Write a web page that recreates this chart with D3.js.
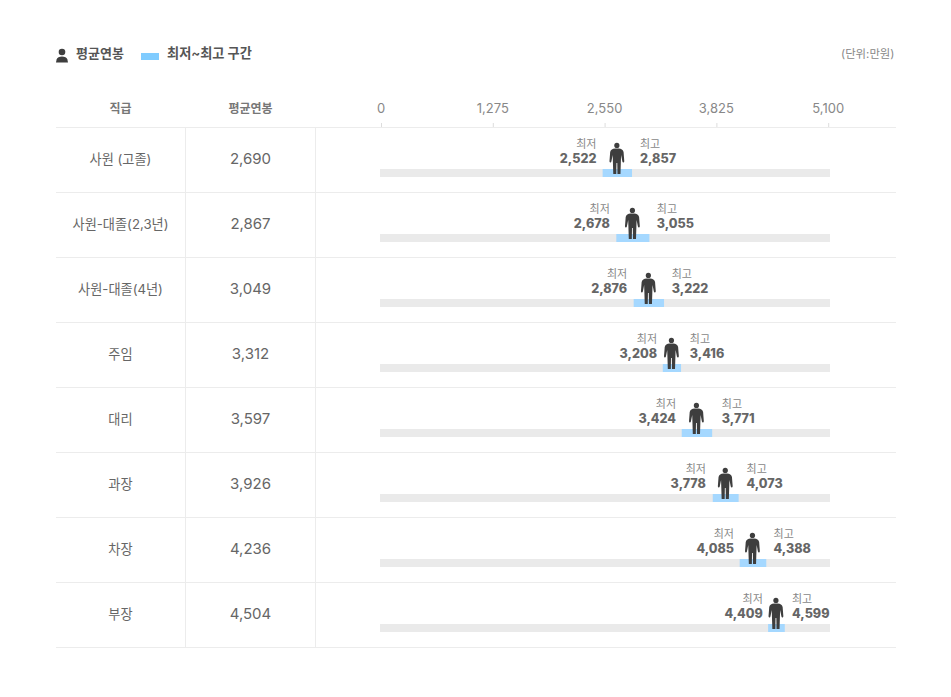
<!DOCTYPE html>
<html>
<head>
<meta charset="utf-8">
<script src="https://cdn.jsdelivr.net/npm/d3@7"></script>
<style>
html, body { margin: 0; padding: 0; background: #fff; }
text { font-family: Inter, "Noto Sans CJK KR", sans-serif; }
</style>
</head>
<body>
<div class="chart"></div>
<script>
var grades = ["사원 (고졸)", "사원-대졸(2,3년)", "사원-대졸(4년)", "주임", "대리", "과장", "차장", "부장"];
var avgPay = [2690, 2867, 3049, 3312, 3597, 3926, 4236, 4504];
var minPay = [2522, 2678, 2876, 3208, 3424, 3778, 4085, 4409];
var maxPay = [2857, 3055, 3222, 3416, 3771, 4073, 4388, 4599];
var tickValues = [0, 1275, 2550, 3825, 5100];

var width = 951, height = 697;
var fmt = d3.format(",");

var svg = d3.select(".chart").append("svg")
    .attr("width", width)
    .attr("height", height)
    .style("display", "block");

var x = d3.scaleLinear().domain([0, 5100]).range([381, 828.2]);
var y = d3.scaleBand().domain(grades).range([127.5, 647.5]);

// person icon, drawn around (0,0) = middle of the figure
var personPath = "M-1.8,-11.6 L1.8,-11.6 C4.4,-11.4 6.2,-10.6 6.7,-8 L7.4,1 C7.5,2.8 5.8,3 5.5,1.4 L4.2,-5 L3.6,14 L0.6,14 L0.4,3 L-0.4,3 L-0.6,14 L-3.6,14 L-4.2,-5 L-5.5,1.4 C-5.8,3 -7.5,2.8 -7.4,1 L-6.7,-8 C-6.2,-10.6 -4.4,-11.4 -1.8,-11.6 Z";
function person(g) {
    g.append("circle").attr("cx", 0).attr("cy", -14.6).attr("r", 2.6).attr("fill", "#3e3e3e");
    g.append("path").attr("d", personPath).attr("fill", "#3e3e3e");
}

// legend
var legend = svg.append("g");
legend.append("circle").attr("cx", 62).attr("cy", 52).attr("r", 3.3).attr("fill", "#3e3e3e");
legend.append("path").attr("d", "M56,62.5 L56.6,59.5 C57,57.5 59.5,56.5 62,56.5 C64.5,56.5 67,57.5 67.4,59.5 L68,62.5 Z").attr("fill", "#3e3e3e");
legend.append("text").attr("x", 76).attr("y", 53.8).attr("dy", "0.35em")
    .attr("font-size", 13).attr("font-weight", 700).attr("fill", "#555").text("평균연봉");
legend.append("rect").attr("x", 141).attr("y", 53).attr("width", 18).attr("height", 7).attr("fill", "#80ccff");
legend.append("text").attr("x", 167).attr("y", 53.8).attr("dy", "0.35em")
    .attr("font-size", 13.2).attr("font-weight", 700).attr("fill", "#555").text("최저~최고 구간");
svg.append("text").attr("x", 894.5).attr("y", 53.8).attr("dy", "0.35em").attr("text-anchor", "end")
    .attr("font-size", 11.4).attr("fill", "#888").text("(단위:만원)");

// header
svg.append("text").attr("x", 120.5).attr("y", 108.5).attr("dy", "0.35em").attr("text-anchor", "middle")
    .attr("font-size", 12).attr("font-weight", 700).attr("fill", "#777").text("직급");
svg.append("text").attr("x", 250.5).attr("y", 108.5).attr("dy", "0.35em").attr("text-anchor", "middle")
    .attr("font-size", 12).attr("font-weight", 700).attr("fill", "#777").text("평균연봉");

var axis = d3.axisTop(x).tickValues(tickValues).tickFormat(fmt).tickSize(4).tickPadding(10);
var axisG = svg.append("g").attr("transform", "translate(0,127)").call(axis);
axisG.select(".domain").remove();
axisG.selectAll(".tick line").attr("stroke", "#ddd");
axisG.selectAll(".tick text").attr("font-size", 13).attr("fill", "#888").attr("dx", -0.5)
    .style("font-family", 'Inter, "Noto Sans CJK KR", sans-serif');

// table lines
svg.append("line").attr("x1", 56).attr("x2", 896).attr("y1", 127.5).attr("y2", 127.5).attr("stroke", "#ececec");
[185.5, 315.5].forEach(function(vx) {
    svg.append("line").attr("x1", vx).attr("x2", vx).attr("y1", 127.5).attr("y2", 647.5).attr("stroke", "#ececec");
});

var rows = svg.selectAll(".row").data(grades).enter().append("g")
    .attr("class", "row")
    .attr("transform", function(d) { return "translate(0," + y(d) + ")"; });

rows.append("line").attr("x1", 56).attr("x2", 896)
    .attr("y1", y.bandwidth()).attr("y2", y.bandwidth()).attr("stroke", "#ececec");

rows.append("text").attr("x", 120.5).attr("y", 31.5).attr("dy", "0.35em").attr("text-anchor", "middle")
    .attr("font-size", 13.2).attr("fill", "#666").text(function(d) { return d; });
rows.append("text").attr("x", 250.5).attr("y", 31.5).attr("dy", "0.35em").attr("text-anchor", "middle")
    .attr("font-size", 15).attr("fill", "#666").text(function(d, i) { return fmt(avgPay[i]); });

rows.append("rect").attr("x", 380).attr("y", 41.5).attr("width", 450).attr("height", 8).attr("fill", "#eaeaea");
rows.append("rect")
    .attr("x", function(d, i) { return x(minPay[i]) + 0.5; })
    .attr("y", 41.5)
    .attr("width", function(d, i) { return x(maxPay[i]) - x(minPay[i]); })
    .attr("height", 8)
    .attr("fill", "#a5d8ff");

// value labels are centred a fixed distance off the band, captions line up with their outer edge
var lowVal = rows.append("text")
    .attr("x", function(d, i) { return x(minPay[i]) - 24; })
    .attr("y", 31.5).attr("dy", "0.35em").attr("text-anchor", "middle")
    .attr("font-size", 12.6).attr("font-weight", 800).attr("fill", "#666")
    .text(function(d, i) { return fmt(minPay[i]); });
var highVal = rows.append("text")
    .attr("x", function(d, i) { return x(maxPay[i]) + 26.5; })
    .attr("y", 31.5).attr("dy", "0.35em").attr("text-anchor", "middle")
    .attr("font-size", 12.6).attr("font-weight", 800).attr("fill", "#666")
    .text(function(d, i) { return fmt(maxPay[i]); });

lowVal.each(function(d, i) {
    d3.select(this.parentNode).append("text")
        .attr("x", x(minPay[i]) - 24 + this.getComputedTextLength() / 2)
        .attr("y", 16.5).attr("dy", "0.35em").attr("text-anchor", "end")
        .attr("font-size", 11).attr("fill", "#888").text("최저");
});
highVal.each(function(d, i) {
    d3.select(this.parentNode).append("text")
        .attr("x", x(maxPay[i]) + 26.5 - this.getComputedTextLength() / 2)
        .attr("y", 16.5).attr("dy", "0.35em")
        .attr("font-size", 11).attr("fill", "#888").text("최고");
});

rows.append("g")
    .attr("transform", function(d, i) { return "translate(" + x(avgPay[i]) + ",32.5)"; })
    .call(person);
</script>
</body>
</html>
